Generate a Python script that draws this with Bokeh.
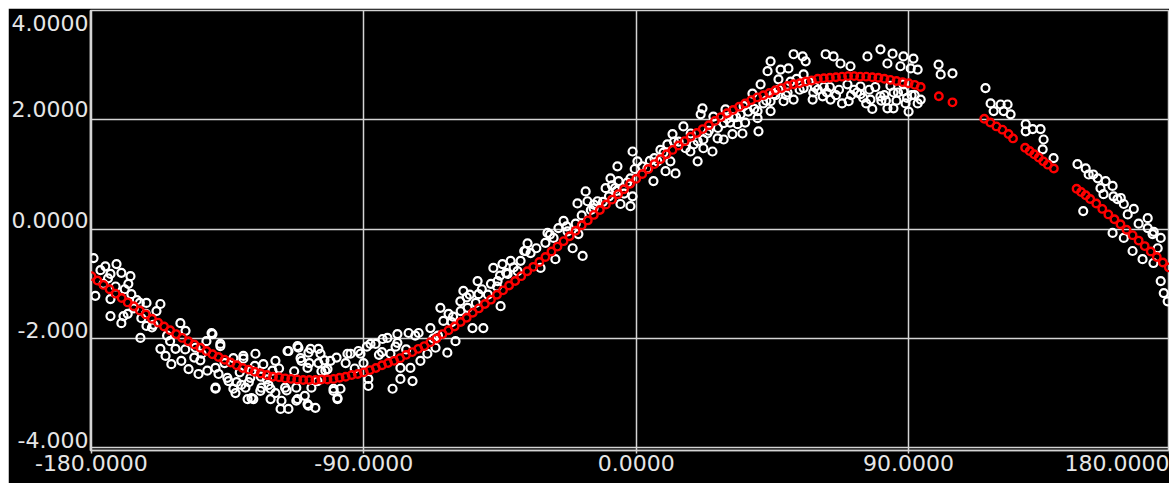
from bokeh.plotting import figure
from bokeh.models import Range1d, FixedTicker, CustomJSTickFormatter, Spacer
from bokeh.layouts import row, column
from bokeh.embed import file_html
from bokeh.resources import INLINE

# ---------------- data ----------------
grid_x = [-180, -90, 0, 90]
grid_y = [-4, -2, 0, 2, 4]
x_label_pos = [-180, -90, 0, 90, 176.2]      # last label is pushed inside the plot edge
x_tick_labels = ["-180.0000", "-90.0000", "0.0000", "90.0000", "180.0000"]
y_label_pos = [-3.85, -1.84, 0.17, 2.19, 3.77]  # labels sit just above their grid line
y_tick_labels = ["-4.000", "-2.000", "0.0000", "2.0000", "4.0000"]

# measured (noisy) points - white
white_x = [
    -179.3, -175.4, -171.7, -173.7, -170.1, -167.1, -176.0, -178.7, -167.8, -173.7,
    -173.7, -169.4, -170.1, -166.8, -161.8, -157.2, -158.5, -163.5, -161.8, -163.8,
    -150.6, -148.9, -157.2, -155.5, -152.2, -153.6, -150.3, -147.9, -144.6, -145.6,
    -140.3, -142.0, -137.4, -143.6, -139.0, -139.0, -134.7, -132.4, -129.8, -125.8,
    -123.2, -127.1, -129.1, -127.1, -123.8, -119.2, -119.2, -120.8, -117.2, -117.5,
    -114.9, -112.3, -114.9, -111.6, -108.3, -105.0, -110.6, -105.0, -112.3, -107.3,
    -108.3, -106.0, -102.7,
    -140.0, -137.4, -133.1, -129.8, -139.0, -133.1, -128.4, -126.5, -124.2, -120.8,
    -111.9, -108.6, -115.2, -111.9, -110.9, -107.6, -108.6, -105.3, -102.0, -100.0,
    -98.7, -95.4, -91.8, -87.8, -83.8, -80.5, -120.2, -127.5, -135.1, -141.7,
    -104.3, -101.0, -100.0, -97.7, -98.7, -94.4, -91.1, -90.1, -88.5, -88.5,
    -86.1, -82.2, -78.9, -75.2, -71.9, -78.9, -81.2, -77.9, -77.9, -74.6,
    -73.9, -71.3, -69.0, -66.3, -62.4, -68.0, -64.7, -62.0, -63.7, -59.7,
    -57.1, -58.1, -55.7, -52.4, -52.1, -54.1, -50.5, -47.2, -45.8, -44.2,
    -41.5, -39.2, -42.5, -44.8, -35.9, -38.2, -34.9, -31.6, -29.3, -27.3,
    -25.7,
    -26.7, -24.0, -22.7, -21.0, -17.7, -19.1, -19.4, -16.7, -16.1, -14.1,
    -12.8, -10.1, -8.5, -6.2, -5.8, -5.2, -1.9, -1.2, -1.9, -1.2,
    0.4, 3.7, 5.7, 7.0, 9.7, 10.3, 12.0, 11.3, 13.0, 15.6,
    16.3, 17.9, 20.3, 20.3, 22.2, 22.2, 25.2, 21.9, 21.3, 25.5,
    26.9, 28.9, 28.9, 31.8, 35.1, 33.5, 40.4, 40.1, 40.1, 29.5,
    35.5, 38.4, 41.1, 44.4, 44.4, 48.7,
    44.4, 43.4, 47.0, 47.7, 50.3, 52.0, 55.0, 56.0, 55.3, 45.4,
    52.0, 55.3, 58.3, 61.6, 64.2, 62.6, 65.2, 67.5, 70.8, 76.4,
    80.7, 84.7, 88.3, 91.6, 83.0, 87.3, 90.7, 93.0, 69.8, 74.1,
    70.2, 74.1, 77.4, 80.7, 83.0, 85.0, 88.3, 88.3, 93.0, 94.0,
    99.9, 100.6, 104.5,
    115.4, 117.1, 120.4, 122.7, 118.1, 121.4, 123.7, 128.7, 128.7, 131.0,
    133.6, 134.6, 134.3, 137.9, 145.8, 148.5, 149.5, 152.5, 155.1, 157.4,
    153.4, 154.4, 157.7, 160.1, 161.1, 164.4, 162.4, 169.0, 169.0, 170.6,
    173.3, 172.3, 147.7, 157.4, 161.1, 164.0, 167.3, 170.9, 173.3, 174.3,
    175.6,
    72.0, 76.0, 79.0, 82.0, 86.0, 89.0, 91.0, 78.0, 84.0, 90.0,
    60.0, 63.0, 66.0, 68.0, -9.0, -7.0, -4.0, -3.0, -11.0, -166.0,
    -164.0, -168.0, -162.0, -131.0, -128.0, -124.0, -132.0, -118.0, -113.0, -108.0,
    -58.0, -49.0, -46.0, -53.0, 30.0, 33.0, 36.0, 47.0, 50.0, 53.0,
    57.0,
    -177.0, -172.0, -160.0, -155.0, -146.0, -136.0, -122.0, -116.0, -103.0, -96.0,
    -85.0, -76.0, -67.0, -61.0, -56.0, -48.0, -43.0, -37.0, -33.0, -30.0,
    -23.0, -18.0, -14.0, -8.0, 2.0, 6.0, 9.0, 14.0, 18.0, 24.0,
    27.0, 32.0, 37.0, 42.0, 46.0, 51.0, 54.0, 59.0, 64.0, 71.0,
    75.0, 81.0, 85.0, 92.0, 151.0, 159.0, 166.0, 171.0,
    -174.5, -169.0, -165.0, -159.5, -154.0, -149.0, -144.0, -138.0, -130.5, -126.0,
    -121.5, -115.5, -109.5, -104.0, -99.0, -93.0, -89.0, -84.0, -79.5, -73.0,
    -65.5, -60.5, -55.0, -51.0, -45.0, -40.5, -36.5, -28.5, -20.0, -15.0,
    -6.5, -0.5, 4.5, 8.0, 12.5, 19.0, 23.5, 31.0, 34.5, 39.0,
    43.0, 49.5, 58.5, 62.0, 67.0, 73.0, 77.0, 82.5, 86.5, 89.5,
]
white_y = [
    -0.53, -0.68, -0.64, -0.82, -0.80, -0.86, -1.00, -1.22, -1.00, -1.28,
    -1.59, -1.59, -1.72, -1.19, -1.35, -1.37, -1.50, -1.63, -1.77, -1.99,
    -1.72, -1.86, -2.19, -2.32, -2.19, -2.47, -2.41, -2.56, -2.65, -2.17,
    -1.90, -2.05, -2.10, -2.28, -2.54, -2.90, -2.78, -3.00, -2.37, -2.28,
    -2.47, -2.59, -2.90, -3.09, -2.90, -2.41, -3.00, -3.11, -3.14, -3.29,
    -3.29, -3.14, -2.23, -2.17, -2.26, -2.19, -2.41, -2.45, -2.90, -2.90,
    -3.23, -3.27, -2.59,
    -1.92, -2.14, -2.36, -2.32, -2.92, -2.92, -3.11, -3.11, -2.96, -2.92,
    -3.11, -3.20, -2.23, -2.14, -2.36, -2.19, -2.54, -2.78, -2.56, -2.92,
    -3.11, -2.28, -2.23, -2.10, -2.01, -2.92, -2.59, -2.72, -2.72, -2.59,
    -2.28, -2.41, -2.96, -2.92, -3.09, -2.28, -2.28, -2.45, -2.74, -2.87,
    -2.10, -1.99, -1.92, -1.90, -1.90, -2.08, -2.28, -2.54, -2.74, -2.54,
    -2.78, -2.41, -2.28, -2.17, -2.26, -1.81, -1.44, -1.55, -1.68, -2.05,
    -1.13, -1.32, -1.44, -0.95, -1.19, -1.81, -1.81, -0.71, -0.95, -0.64,
    -0.58, -0.77, -0.82, -1.41, -0.26, -0.58, -0.44, -0.71, -0.07, -0.16,
    0.02,
    -0.55, 0.15, -0.04, -0.35, -0.49, -0.09, 0.47, 0.69, 0.51, 0.38,
    0.51, 0.75, 0.93, 1.15, 0.88, 0.46, 0.42, 0.60, 0.93, 1.42,
    1.24, 1.11, 0.88, 1.24, 1.06, 1.55, 1.74, 1.24, 1.02, 1.88,
    1.48, 1.42, 1.61, 1.24, 1.48, 1.64, 1.42, 2.21, 2.10, 2.06,
    1.66, 1.64, 1.94, 1.74, 1.75, 1.92, 1.79, 2.03, 2.16, 2.19,
    2.25, 2.48, 2.65, 2.16, 2.34, 2.34,
    3.07, 2.89, 2.74, 2.92, 2.94, 3.20, 3.16, 3.07, 2.83, 2.47,
    2.37, 2.58, 2.37, 2.43, 2.37, 3.20, 3.16, 3.03, 2.98, 3.16,
    3.29, 3.21, 3.16, 3.12, 3.03, 2.98, 2.94, 2.92, 2.65, 2.61,
    2.34, 2.47, 2.37, 2.43, 2.21, 2.21, 2.52, 2.65, 2.30, 2.37,
    3.01, 2.83, 2.85,
    2.58, 2.30, 2.28, 2.28, 2.16, 2.16, 2.10, 1.92, 1.79, 1.83,
    1.83, 1.64, 1.46, 1.30, 1.19, 1.11, 1.00, 0.93, 0.88, 0.79,
    0.75, 0.64, 0.60, 0.57, 0.46, 0.37, 0.27, 0.20, 0.02, -0.09,
    -0.16, -0.35, 0.33, -0.07, -0.16, -0.40, -0.55, -0.62, -0.95, -1.17,
    -1.32,
    2.55, 2.30, 2.60, 2.45, 2.35, 2.30, 2.45, 2.20, 2.62, 2.15,
    2.55, 2.50, 2.45, 2.30, 0.60, 0.75, 0.65, 0.85, 0.50, -1.45,
    -1.35, -1.55, -1.55, -2.62, -2.80, -2.70, -2.80, -2.55, -2.60, -2.45,
    -1.50, -1.20, -1.05, -1.35, 2.02, 2.05, 1.95, 2.55, 2.50, 2.75,
    2.70,
    -0.75, -1.05, -1.80, -1.95, -2.35, -2.45, -2.75, -2.90, -2.40, -2.45,
    -2.30, -2.20, -2.00, -1.70, -1.25, -1.00, -0.80, -0.40, -0.35, -0.25,
    0.05, 0.25, 0.45, 0.80, 1.15, 1.30, 1.40, 1.60, 1.75, 1.80,
    1.85, 2.05, 2.15, 2.30, 2.45, 2.70, 2.55, 2.60, 2.60, 2.45,
    2.40, 2.35, 2.50, 2.45, 1.00, 0.55, 0.10, -0.05,
    -0.90, -1.10, -1.30, -1.75, -2.05, -2.20, -2.40, -2.65, -2.85, -2.50,
    -2.85, -2.95, -3.05, -2.60, -2.35, -2.55, -2.15, -2.25, -2.15, -1.95,
    -1.95, -1.60, -1.20, -1.10, -0.85, -0.70, -0.40, -0.10, 0.10, 0.35,
    0.70, 1.10, 1.25, 1.45, 1.60, 1.55, 1.75, 1.95, 2.10, 2.20,
    2.35, 2.45, 2.50, 2.60, 2.55, 2.50, 2.55, 2.35, 2.50, 2.40,
]

# fitted values - red
red_x = [
    -180, -178, -176, -174, -172, -170, -168, -166, -164, -162,
    -160, -158, -156, -154, -152, -150, -148, -146, -144, -142,
    -140, -138, -136, -134, -132, -130, -128, -126, -124, -122,
    -120, -118, -116, -114, -112, -110, -108, -106, -104, -102,
    -100, -98, -96, -94, -92, -90, -88, -86, -84, -82,
    -80, -78, -76, -74, -72, -70, -68, -66, -64, -62,
    -60, -58, -56, -54, -52, -50, -48, -46, -44, -42,
    -40, -38, -36, -34, -32, -30, -28, -26, -24, -22,
    -20, -18, -16, -14, -12, -10, -8, -6, -4, -2,
    0, 2, 4, 6, 8, 10, 12, 14, 16, 18,
    20, 22, 24, 26, 28, 30, 32, 34, 36, 38,
    40, 42, 44, 46, 48, 50, 52, 54, 56, 58,
    60, 62, 64, 66, 68, 70, 72, 74, 76, 78,
    80, 82, 84, 86, 88, 90, 92, 94,
    100, 104.5, 115, 117, 119, 121, 123, 124.5, 128.5, 130,
    131.5, 133, 134.5, 136, 138, 145.5, 147, 148.5, 150, 152,
    154, 156, 158, 160, 162, 164, 166, 168, 170, 172,
    174, 176,
]
red_y = [
    -0.86, -0.94, -1.02, -1.10, -1.18, -1.26, -1.34, -1.41, -1.49, -1.56,
    -1.64, -1.71, -1.78, -1.85, -1.92, -1.99, -2.05, -2.11, -2.17, -2.23,
    -2.29, -2.34, -2.39, -2.44, -2.49, -2.54, -2.57, -2.61, -2.64, -2.67,
    -2.70, -2.71, -2.73, -2.74, -2.75, -2.76, -2.76, -2.76, -2.75, -2.75,
    -2.74, -2.72, -2.70, -2.67, -2.65, -2.62, -2.58, -2.54, -2.49, -2.45,
    -2.41, -2.36, -2.30, -2.25, -2.19, -2.14, -2.07, -2.00, -1.92, -1.85,
    -1.78, -1.70, -1.62, -1.53, -1.45, -1.37, -1.29, -1.20, -1.12, -1.03,
    -0.95, -0.86, -0.77, -0.69, -0.60, -0.51, -0.41, -0.32, -0.22, -0.13,
    -0.03, 0.07, 0.16, 0.26, 0.35, 0.45, 0.54, 0.64, 0.73, 0.83,
    0.92, 1.01, 1.10, 1.19, 1.28, 1.37, 1.45, 1.53, 1.61, 1.69,
    1.76, 1.83, 1.90, 1.98, 2.05, 2.12, 2.18, 2.24, 2.30, 2.36,
    2.41, 2.45, 2.49, 2.54, 2.58, 2.62, 2.65, 2.67, 2.70, 2.72,
    2.75, 2.76, 2.77, 2.78, 2.79, 2.80, 2.80, 2.79, 2.79, 2.78,
    2.77, 2.75, 2.73, 2.71, 2.69, 2.67, 2.64, 2.60,
    2.43, 2.32, 2.02, 1.95, 1.88, 1.82, 1.74, 1.66, 1.49, 1.43,
    1.37, 1.31, 1.24, 1.18, 1.11, 0.74, 0.68, 0.62, 0.55, 0.47,
    0.37, 0.27, 0.18, 0.09, -0.01, -0.11, -0.21, -0.31, -0.41, -0.51,
    -0.61, -0.70,
]

# ---------------- style ----------------
LINE = "#d4d4d4"
TEXT = "#e6e6e6"
FONT = "DejaVu Sans"
X0, X1 = -180.3, 176.2
Y0, Y1 = -4.05, 4.0

p = figure(width=1161, height=475,
           x_range=Range1d(X0, X1), y_range=Range1d(Y0, Y1),
           output_backend="svg", toolbar_location=None,
           min_border_left=82, min_border_top=2,
           min_border_right=0, min_border_bottom=33)
p.background_fill_color = "black"
p.border_fill_color = "black"
p.outline_line_color = LINE
p.outline_line_width = 1.5

p.xaxis.ticker = FixedTicker(ticks=x_label_pos)
p.xaxis.formatter = CustomJSTickFormatter(args=dict(labels=x_tick_labels),
                                          code="return labels[index]")
p.yaxis.ticker = FixedTicker(ticks=y_label_pos)
p.yaxis.formatter = CustomJSTickFormatter(args=dict(labels=y_tick_labels),
                                          code="return labels[index]")
p.xgrid.ticker = FixedTicker(ticks=grid_x)
p.ygrid.ticker = FixedTicker(ticks=grid_y)

for ax in (p.xaxis, p.yaxis):
    ax.axis_line_color = LINE
    ax.axis_line_width = 1.5
    ax.minor_tick_line_color = None
    ax.major_label_text_font = FONT
    ax.major_label_text_font_size = "22px"
    ax.major_label_text_color = TEXT
p.xaxis.major_tick_line_color = LINE
p.xaxis.major_tick_line_width = 1.5
p.xaxis.major_tick_in = 0
p.xaxis.major_tick_out = 3
p.xaxis.major_label_standoff = 1
p.yaxis.major_tick_line_color = None
p.yaxis.major_tick_in = 0
p.yaxis.major_tick_out = 0
p.yaxis.major_label_standoff = 2

p.grid.grid_line_color = LINE
p.grid.grid_line_width = 1.5

p.scatter(white_x, white_y, marker="circle", size=8, fill_color=None,
          line_color="white", line_width=2.2)
p.scatter(red_x, red_y, marker="circle", size=7.5, fill_color=None,
          line_color="#ff0000", line_width=2.4)

page = column(Spacer(height=8), row(Spacer(width=8), p))
open("out.html", "w").write(file_html(page, INLINE))
